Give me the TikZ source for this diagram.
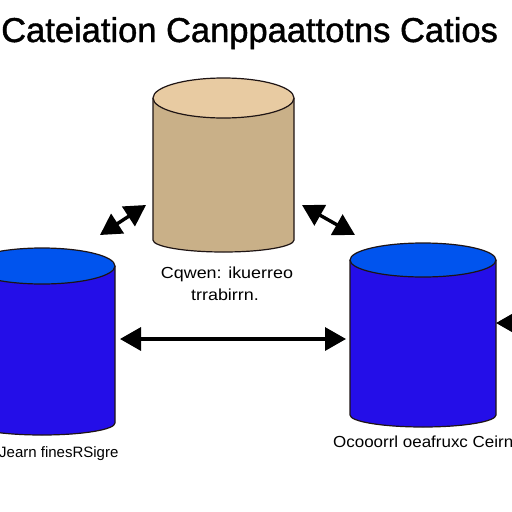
\documentclass[tikz,border=0pt]{standalone}
\usepackage{fontspec}
\setmainfont{Liberation Sans}
\newfontfamily\titlefont[FakeBold=1.2]{Liberation Sans}
\usetikzlibrary{arrows.meta}
\definecolor{tantop}{RGB}{232,203,162}
\definecolor{tanbody}{RGB}{201,176,136}
\definecolor{bluetop}{RGB}{0,84,238}
\definecolor{bluebody}{RGB}{36,14,232}
\definecolor{edge}{RGB}{30,20,20}
\tikzset{
  cylline/.style={draw=edge, line width=1.2pt},
  dblarrow/.style={line width=3.4pt, {Triangle[length=21pt,width=23pt]}-{Triangle[length=21pt,width=23pt]}},
  onearrow/.style={line width=3.4pt, {Triangle[length=21pt,width=23pt]}-},
  lbl/.style={inner sep=0pt, font=\fontsize{16}{18}\selectfont}
}
\newcommand{\mycyl}[7]{% cx, rx, topy, topry, boty, botry, colors prefix
  \fill[#7body] (#1-#2,#3) -- (#1-#2,#5) arc[start angle=180,end angle=0,x radius=#2,y radius=#6] -- (#1+#2,#3) -- cycle;
  \draw[cylline] (#1-#2,#3) -- (#1-#2,#5) arc[start angle=180,end angle=0,x radius=#2,y radius=#6] -- (#1+#2,#3);
  \draw[cylline, fill=#7top] (#1,#3) ellipse[x radius=#2, y radius=#4];
}
\begin{document}
\begin{tikzpicture}[x=1pt,y=-1pt]
\useasboundingbox (0,0) rectangle (512,512);
\clip (0,0) rectangle (512,512);
\fill[white] (0,0) rectangle (512,512);

\node[anchor=base west, inner sep=0pt, font=\titlefont\fontsize{34.5}{40}\selectfont] (title) at (1,42) {Cateiation Canppaattotns Catios};

\mycyl{223.5}{70.5}{98}{20}{240}{12}{tan}
\mycyl{42}{73}{266}{18}{423}{12}{blue}
\mycyl{423}{73}{260}{17}{415}{12}{blue}

\node[lbl, anchor=base] (midlbl1) at (227,278) {\scalebox{1.12}[1]{Cqwen: ikuerreo}};
\node[lbl, anchor=base] (midlbl2) at (225,300) {\scalebox{1.12}[1]{trrabirrn.}};
\node[lbl, anchor=base west, font=\fontsize{15}{18}\selectfont] (leftlbl) at (-1,457) {Jearn finesRSigre};
\node[lbl, anchor=base west] (rightlbl) at (333,447) {\scalebox{1.06}[1]{Ocooorrl oeafruxc Ceirn}};

\coordinate (a1) at (100,235);
\coordinate (a2) at (146,205);
\coordinate (b1) at (302,205);
\coordinate (b2) at (355,235);
\coordinate (c1) at (120,339);
\coordinate (c2) at (346,339);
\coordinate (d1) at (496,323);
\coordinate (d2) at (520,323);

\draw[dblarrow] (a1) -- (a2);
\draw[dblarrow] (b1) -- (b2);
\draw[dblarrow] (c1) -- (c2);
\draw[onearrow] (d1) -- (d2);
\end{tikzpicture}
\end{document}
